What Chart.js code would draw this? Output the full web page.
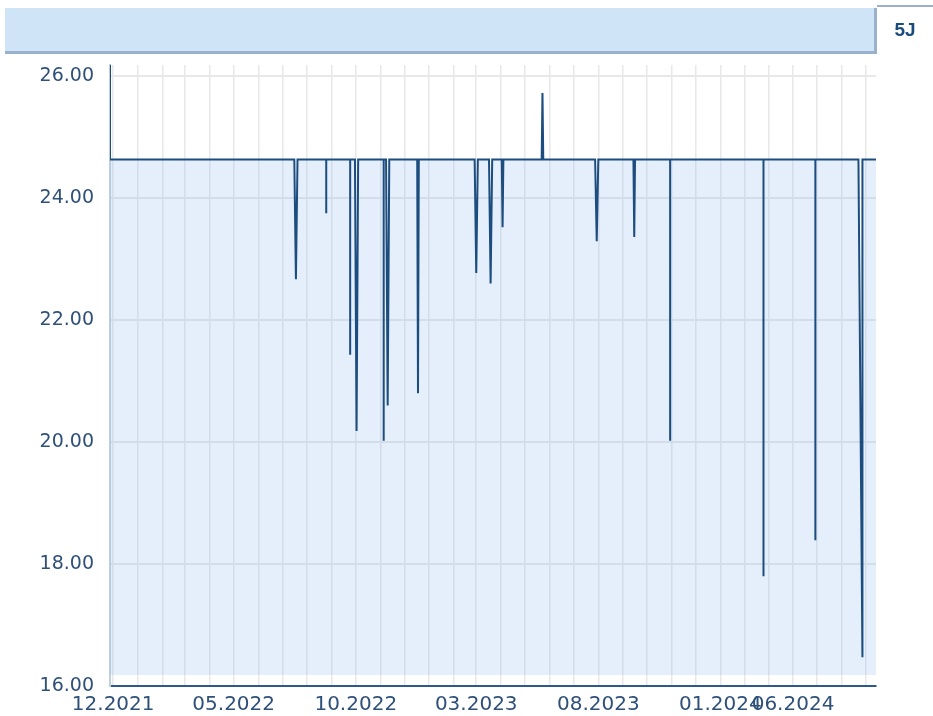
<!DOCTYPE html>
<html>
<head>
<meta charset="utf-8">
<script src="https://cdn.jsdelivr.net/npm/chart.js@4"></script>
<style>
    body { margin: 0; background: #ffffff; width: 933px; height: 716px; overflow: hidden; position: relative; }
    #chart-wrap { position: absolute; left: 0; top: 0; width: 933px; height: 716px; }
    .head-bar { position: absolute; left: 5px; top: 8px; width: 869px; height: 43px; background: #cfe4f7;
        border-right: 3px solid #9ab1cb; border-bottom: 3px solid #9ab1cb; z-index: 2; }
    .head-tag { position: absolute; left: 877px; top: 5px; width: 56px; height: 46px; border-top: 2px solid #9ab1cb;
        font: bold 19px "Liberation Sans", Arial, sans-serif; color: #1b4b7e; text-align: center; line-height: 46px; z-index: 2; }
</style>
</head>
<body>
<div class="head-bar"></div>
<div class="head-tag">5J</div>
<div id="chart-wrap"><canvas id="myChart"></canvas></div>
<script>
    // Series points (date, value)
    var pointDates = [
        '2021-11-27', '2021-11-27',
        '2022-07-16', '2022-07-18', '2022-07-20',
        '2022-08-25', '2022-08-25', '2022-08-25',
        '2022-09-24', '2022-09-24', '2022-09-24',
        '2022-09-30', '2022-10-02', '2022-10-04',
        '2022-11-05', '2022-11-05', '2022-11-05',
        '2022-11-08', '2022-11-10', '2022-11-12',
        '2022-12-17', '2022-12-18', '2022-12-19',
        '2023-02-27', '2023-03-01', '2023-03-03',
        '2023-03-17', '2023-03-19', '2023-03-21',
        '2023-04-02', '2023-04-03', '2023-04-04',
        '2023-05-22', '2023-05-23', '2023-05-24',
        '2023-07-28', '2023-07-30', '2023-08-01',
        '2023-09-14', '2023-09-15', '2023-09-16',
        '2023-10-30', '2023-10-30', '2023-10-30',
        '2024-02-24', '2024-02-24', '2024-02-24',
        '2024-04-29', '2024-04-29', '2024-04-29',
        '2024-06-22', '2024-06-27', '2024-06-27',
        '2024-07-14'
    ];
    var pointValues = [
        26.18, 24.63,
        24.63, 22.67, 24.63,
        24.63, 23.75, 24.63,
        24.63, 21.43, 24.63,
        24.63, 20.18, 24.63,
        24.63, 20.02, 24.63,
        24.63, 20.60, 24.63,
        24.63, 20.80, 24.63,
        24.63, 22.77, 24.63,
        24.63, 22.60, 24.63,
        24.63, 23.52, 24.63,
        24.63, 25.72, 24.63,
        24.63, 23.29, 24.63,
        24.63, 23.36, 24.63,
        24.63, 20.02, 24.63,
        24.63, 17.80, 24.63,
        24.63, 18.39, 24.63,
        24.63, 16.47, 24.63,
        24.63
    ];

    // Axis ticks
    var gridMonths = [
        '2021-12', '2022-01', '2022-02', '2022-03', '2022-04', '2022-05', '2022-06', '2022-07',
        '2022-08', '2022-09', '2022-10', '2022-11', '2022-12', '2023-01', '2023-02', '2023-03',
        '2023-04', '2023-05', '2023-06', '2023-07', '2023-08', '2023-09', '2023-10', '2023-11',
        '2023-12', '2024-01', '2024-02', '2024-03', '2024-04', '2024-05', '2024-06', '2024-07'
    ];
    var labelMonths = ['2021-12', '2022-05', '2022-10', '2023-03', '2023-08', '2024-01', '2024-04'];
    var labelTexts = ['12.2021', '05.2022', '10.2022', '03.2023', '08.2023', '01.2024', '06.2024'];
    var yTicks = [16, 18, 20, 22, 24, 26];
    var yMin = 16, yMax = 26.18;
    var xStart = '2021-11-27', xEnd = '2024-07-14';

    /******************************************************/
    // Day number helper (days since 1 Dec 2021)
    function dayNum(str) {
        return Math.round((Date.parse(str) - Date.parse('2021-12-01')) / 86400000);
    }

    var points = pointDates.map(function (d, i) {
        return { x: dayNum(d), y: pointValues[i] };
    });
    var monthDays = gridMonths.map(function (m) { return dayNum(m + '-01'); });
    var labelDays = labelMonths.map(function (m) { return dayNum(m + '-01'); });

    var tickColor = '#2f5078';
    var gridColor = '#e8e8e8';

    /******************************************************/
    // Chart
    var ctx = document.getElementById('myChart').getContext('2d');
    var myLineChart = new Chart(ctx, {
        type: 'line',
        data: {
            datasets: [{
                data: points,
                borderColor: '#1d4d7f',
                borderWidth: 2,
                backgroundColor: 'rgba(130, 180, 235, 0.22)',
                fill: { value: 16.18 },
                pointRadius: 0,
                tension: 0
            }]
        },
        options: {
            responsive: true,
            maintainAspectRatio: false,
            animation: false,
            layout: { padding: { top: 65, right: 57, left: 0, bottom: 0 } },
            plugins: { legend: { display: false }, tooltip: { enabled: false } },
            scales: {
                x: {
                    type: 'linear',
                    min: dayNum(xStart),
                    max: dayNum(xEnd),
                    afterBuildTicks: function (axis) {
                        axis.ticks = monthDays.map(function (d) { return { value: d }; });
                    },
                    afterFit: function (axis) { axis.height = 30; },
                    grid: { color: gridColor, lineWidth: 1.5, drawTicks: false },
                    border: { color: '#2c5a8a', width: 2 },
                    ticks: {
                        autoSkip: false,
                        maxRotation: 0,
                        minRotation: 0,
                        padding: 7,
                        color: tickColor,
                        font: { family: 'DejaVu Sans', size: 20 },
                        callback: function (value) {
                            var i = labelDays.indexOf(value);
                            return i >= 0 ? labelTexts[i] : '';
                        }
                    }
                },
                y: {
                    min: yMin,
                    max: yMax,
                    afterBuildTicks: function (axis) {
                        axis.ticks = yTicks.map(function (v) { return { value: v }; });
                    },
                    afterFit: function (axis) { axis.width = 110; },
                    grid: { color: gridColor, lineWidth: 2, drawTicks: false },
                    border: { color: '#c0cfdd', width: 2 },
                    ticks: {
                        padding: 16,
                        color: tickColor,
                        font: { family: 'DejaVu Sans', size: 19 },
                        callback: function (value) { return Number(value).toFixed(2); }
                    }
                }
            }
        }
    });
</script>
</body>
</html>
